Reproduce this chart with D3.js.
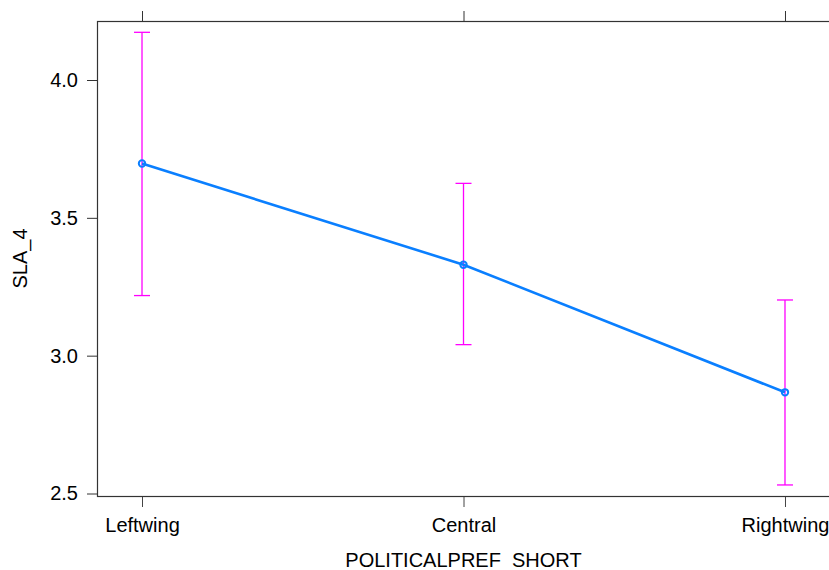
<!DOCTYPE html>
<meta charset="utf-8">
<style>
  body { margin: 0; background: #fff; }
  text { font-family: Arial, "Liberation Sans", sans-serif; fill: #000; }
  .err { stroke: #ff00ff; stroke-width: 1.3; fill: none; }
  .fit { stroke: #0a7fff; stroke-width: 2.6; fill: none; }
  .pt { stroke: #0a7fff; stroke-width: 2; fill: none; }
</style>
<body></body>
<script src="https://d3js.org/d3.v7.min.js"></script>
<script>
// values
var categories = ["Leftwing", "Central", "Rightwing"];
var means = [3.697, 3.330, 2.867];
var lower = [3.218, 3.040, 2.531];
var upper = [4.173, 3.625, 3.202];
var yTicks = [2.5, 3.0, 3.5, 4.0];

var W = 829, H = 570;
var margin = {top: 21, right: -1, bottom: 74, left: 97};
var w = W - margin.left - margin.right,
    h = H - margin.top - margin.bottom;

var svg = d3.select("body").append("svg")
    .attr("width", W)
    .attr("height", H);

var chart = svg.append("g")
    .attr("transform", "translate(" + margin.left + "," + margin.top + ")");

var xscale = d3.scalePoint()
    .domain(categories)
    .range([0, w])
    .padding(0.14);

var yscale = d3.scaleLinear()
    .domain([2.5, 4.0])
    .range([472.5, 59]);

// y axis ticks + labels
var yaxis = d3.axisLeft(yscale)
    .tickValues(yTicks)
    .tickFormat(d3.format(".1f"))
    .tickSize(10)
    .tickPadding(9);

var gy = chart.append("g").call(yaxis);
gy.select(".domain").remove();
gy.selectAll("line").attr("stroke", "#333");
gy.selectAll("text").style("font-size", "20px").attr("fill", "#000");

// bottom axis
var xaxis = d3.axisBottom(xscale).tickSize(10).tickPadding(11);
var gx = chart.append("g")
    .attr("transform", "translate(0," + (h + 1) + ")")
    .call(xaxis);
gx.select(".domain").remove();
gx.selectAll("line").attr("stroke", "#444");
gx.selectAll("text").style("font-size", "20px").attr("fill", "#000");

// top ticks (no labels)
var gt = chart.append("g")
    .call(d3.axisTop(xscale).tickSize(10).tickFormat(""));
gt.select(".domain").remove();
gt.selectAll("line").attr("stroke", "#333");

// frame
chart.append("rect")
    .attr("x", 0.5)
    .attr("y", 0.5)
    .attr("width", w)
    .attr("height", h)
    .attr("fill", "none")
    .attr("stroke", "#333")
    .attr("stroke-width", 1.2);

// error bars
var rows = categories.map(function(c, i) {
  return {cat: c, m: means[i], lo: lower[i], hi: upper[i]};
});

var eb = chart.selectAll("g.eb")
    .data(rows)
    .enter()
    .append("g")
    .attr("class", "eb");

eb.append("line").attr("class", "err")
    .attr("x1", function(d) { return xscale(d.cat); })
    .attr("x2", function(d) { return xscale(d.cat); })
    .attr("y1", function(d) { return yscale(d.lo); })
    .attr("y2", function(d) { return yscale(d.hi); });

eb.append("line").attr("class", "err")
    .attr("x1", function(d) { return xscale(d.cat) - 8; })
    .attr("x2", function(d) { return xscale(d.cat) + 8; })
    .attr("y1", function(d) { return yscale(d.hi); })
    .attr("y2", function(d) { return yscale(d.hi); });

eb.append("line").attr("class", "err")
    .attr("x1", function(d) { return xscale(d.cat) - 8; })
    .attr("x2", function(d) { return xscale(d.cat) + 8; })
    .attr("y1", function(d) { return yscale(d.lo); })
    .attr("y2", function(d) { return yscale(d.lo); });

// fit line + points
var line = d3.line()
    .x(function(d) { return xscale(d.cat); })
    .y(function(d) { return yscale(d.m); });

chart.append("path")
    .datum(rows)
    .attr("class", "fit")
    .attr("d", line);

chart.selectAll("circle.pt")
    .data(rows)
    .enter()
    .append("circle")
    .attr("class", "pt")
    .attr("cx", function(d) { return xscale(d.cat); })
    .attr("cy", function(d) { return yscale(d.m); })
    .attr("r", 3.2);

// axis titles
svg.append("text")
    .attr("x", margin.left + xscale("Central"))
    .attr("y", 567)
    .attr("text-anchor", "middle")
    .style("font-size", "20px")
    .text("POLITICALPREF  SHORT")
    .attr("xml:space", "preserve")
    .style("white-space", "pre");

svg.append("text")
    .attr("transform", "translate(27,258.5) rotate(-90)")
    .attr("text-anchor", "middle")
    .style("font-size", "20px")
    .text("SLA_4");
</script>
